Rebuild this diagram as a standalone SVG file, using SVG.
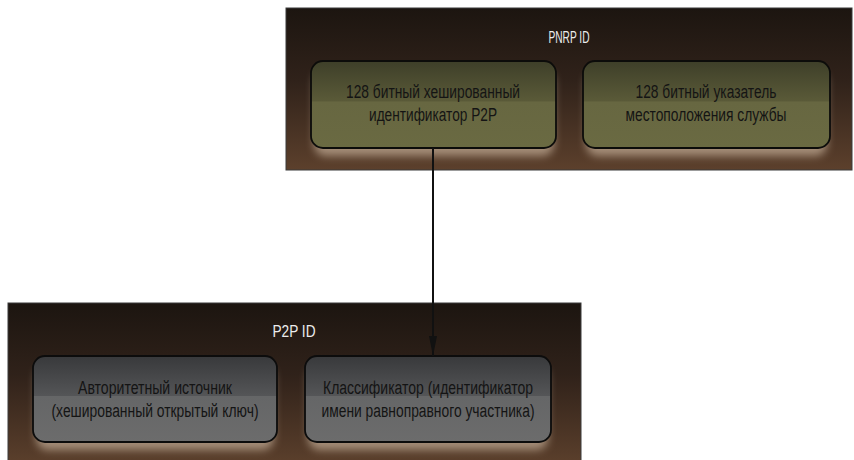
<svg xmlns="http://www.w3.org/2000/svg" width="854" height="460" viewBox="0 0 854 460">
  <defs>
    <linearGradient id="contGrad" x1="0" y1="0" x2="0" y2="1">
      <stop offset="0" stop-color="#1c1510"/>
      <stop offset="0.45" stop-color="#30221a"/>
      <stop offset="1" stop-color="#5c402c"/>
    </linearGradient>
    <linearGradient id="oliveGrad" x1="0" y1="0" x2="0" y2="1">
      <stop offset="0" stop-color="#3e3f29"/>
      <stop offset="0.46" stop-color="#5a5a38"/>
      <stop offset="0.47" stop-color="#676741"/>
      <stop offset="1" stop-color="#6a6a42"/>
    </linearGradient>
    <linearGradient id="grayGrad" x1="0" y1="0" x2="0" y2="1">
      <stop offset="0" stop-color="#38393b"/>
      <stop offset="0.46" stop-color="#545557"/>
      <stop offset="0.47" stop-color="#656667"/>
      <stop offset="1" stop-color="#6c6c6c"/>
    </linearGradient>
    <filter id="glow" x="-20%" y="-30%" width="140%" height="160%">
      <feGaussianBlur stdDeviation="4"/>
    </filter>
    <marker id="arrow" viewBox="0 0 20 8" refX="20" refY="4" markerWidth="20" markerHeight="8" markerUnits="userSpaceOnUse" orient="auto">
      <path d="M0,0 L20,4 L0,8 Z" fill="#111"/>
    </marker>
    <style>
      .cont { fill: url(#contGrad); stroke: #3a3a3a; stroke-width: 1; }
      .olive { fill: url(#oliveGrad); stroke: #0c0c0a; stroke-width: 1.8; }
      .gray { fill: url(#grayGrad); stroke: #0c0c0c; stroke-width: 1.8; }
      .glowr { fill: #dcc6ae; opacity: 0.6; filter: url(#glow); }
      .title { font-family: "Liberation Sans", Arial, sans-serif; font-size: 16px; fill: #ececec; text-anchor: middle; }
      .lbl { font-family: "Liberation Sans", Arial, sans-serif; font-size: 18px; fill: #141414; text-anchor: middle; }
      .conn { stroke: #111; stroke-width: 2; fill: none; }
    </style>
  </defs>

  <g id="pnrp-id">
    <rect class="cont" x="286" y="8" width="566" height="162"/>
    <text class="title" x="569" y="43" textLength="41" lengthAdjust="spacingAndGlyphs">PNRP ID</text>
  </g>

  <g id="p2p-id">
    <rect class="cont" x="8" y="303" width="573" height="162"/>
    <text class="title" x="294" y="337" textLength="43" lengthAdjust="spacingAndGlyphs">P2P ID</text>
  </g>

  <g id="hashed-p2p">
    <rect class="glowr" x="314" y="70" width="240" height="86" rx="12"/>
    <rect class="olive" x="311" y="61" width="245" height="87" rx="12"/>
    <text class="lbl" x="433" y="98" textLength="174" lengthAdjust="spacingAndGlyphs">128 битный хешированный</text>
    <text class="lbl" x="433" y="121" textLength="128" lengthAdjust="spacingAndGlyphs">идентификатор P2P</text>
  </g>

  <g id="service-locator">
    <rect class="glowr" x="586" y="70" width="241" height="86" rx="12"/>
    <rect class="olive" x="583" y="61" width="247" height="87" rx="12"/>
    <text class="lbl" x="706" y="98" textLength="141" lengthAdjust="spacingAndGlyphs">128 битный указатель</text>
    <text class="lbl" x="706" y="121" textLength="161" lengthAdjust="spacingAndGlyphs">местоположения службы</text>
  </g>

  <g id="authority">
    <rect class="glowr" x="36" y="365" width="238" height="85" rx="12"/>
    <rect class="gray" x="33" y="356" width="244" height="86" rx="12"/>
    <text class="lbl" x="155" y="394" textLength="154" lengthAdjust="spacingAndGlyphs">Авторитетный источник</text>
    <text class="lbl" x="155" y="417" textLength="207" lengthAdjust="spacingAndGlyphs">(хешированный открытый ключ)</text>
  </g>

  <g id="classifier">
    <rect class="glowr" x="308" y="365" width="240" height="85" rx="12"/>
    <rect class="gray" x="305" y="356" width="246" height="86" rx="12"/>
    <text class="lbl" x="428" y="394" textLength="210" lengthAdjust="spacingAndGlyphs">Классификатор (идентификатор</text>
    <text class="lbl" x="428" y="417" textLength="213" lengthAdjust="spacingAndGlyphs">имени равноправного участника)</text>
  </g>

  <g id="connectors">
    <line class="conn" x1="433" y1="148" x2="433" y2="356" marker-end="url(#arrow)"/>
  </g>
</svg>
